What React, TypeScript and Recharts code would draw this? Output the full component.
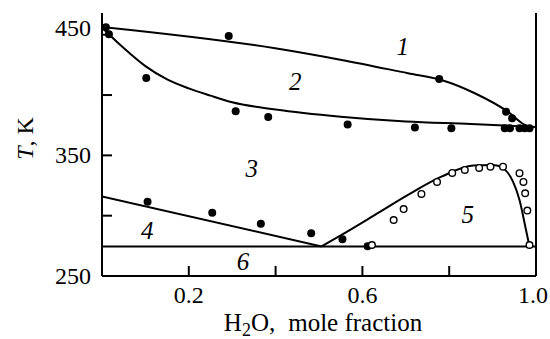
import React from 'react';
import { ComposedChart, Line, Scatter, XAxis, YAxis, ReferenceLine } from 'recharts';

const FONT = '"Liberation Serif", "Times New Roman", serif';

// Axis ticks
const xTicks = [0.2, 0.4, 0.6, 0.8, 1.0];
const xTickLabels = [0.2, 0.6, 1.0];
const yTicks = [250, 300, 350, 400, 450];
const yTickLabels = [250, 350, 450];

// Curves (mole fraction H2O, T in K)
const curve1 = [
  { x: 0.0, y: 456.5 },
  { x: 0.399, y: 438.8 },
  { x: 0.552, y: 429.1 },
  { x: 0.705, y: 418.1 },
  { x: 0.782, y: 412.5 },
  { x: 0.859, y: 401.5 },
  { x: 0.935, y: 386.2 },
  { x: 0.974, y: 375.2 },
  { x: 0.985, y: 373.5 },
];
const curve2 = [
  { x: 0.0, y: 456 },
  { x: 0.02, y: 449 },
  { x: 0.05, y: 439 },
  { x: 0.1, y: 424 },
  { x: 0.15, y: 413 },
  { x: 0.2, y: 405.5 },
  { x: 0.25, y: 399.5 },
  { x: 0.3, y: 394 },
  { x: 0.4, y: 388 },
  { x: 0.55, y: 382 },
  { x: 0.7, y: 378 },
  { x: 0.85, y: 376 },
  { x: 1.0, y: 373.5 },
];
const curve4 = [
  { x: 0.0, y: 316 },
  { x: 0.506, y: 274.5 },
];
const curve5 = [
  { x: 0.506, y: 274.5 },
  { x: 0.552, y: 284 },
  { x: 0.629, y: 300.6 },
  { x: 0.705, y: 317.2 },
  { x: 0.782, y: 332.3 },
  { x: 0.855, y: 341.5 },
  { x: 0.901, y: 342 },
  { x: 0.924, y: 339.3 },
  { x: 0.947, y: 328.2 },
  { x: 0.962, y: 313 },
  { x: 0.977, y: 288.1 },
  { x: 0.985, y: 274.5 },
];
const curve6 = [
  { x: 0.0, y: 274.5 },
  { x: 1.0, y: 274.5 },
];

// Experimental points
const filledPoints = [
  { x: 0.009, y: 456.2 },
  { x: 0.016, y: 450.4 },
  { x: 0.102, y: 414.2 },
  { x: 0.292, y: 449 },
  { x: 0.308, y: 386.6 },
  { x: 0.383, y: 381.8 },
  { x: 0.777, y: 413.3 },
  { x: 0.566, y: 375.5 },
  { x: 0.721, y: 373 },
  { x: 0.805, y: 372.5 },
  { x: 0.931, y: 386.2 },
  { x: 0.945, y: 380.8 },
  { x: 0.928, y: 372.5 },
  { x: 0.94, y: 372.5 },
  { x: 0.962, y: 372.5 },
  { x: 0.974, y: 372.5 },
  { x: 0.985, y: 372.5 },
  { x: 0.105, y: 311.6 },
  { x: 0.254, y: 302.5 },
  { x: 0.366, y: 293.4 },
  { x: 0.482, y: 285.4 },
  { x: 0.554, y: 280.4 },
  { x: 0.612, y: 274.6 },
];
const openPoints = [
  { x: 0.622, y: 275.7 },
  { x: 0.672, y: 296.4 },
  { x: 0.695, y: 305.5 },
  { x: 0.736, y: 318 },
  { x: 0.772, y: 328 },
  { x: 0.807, y: 335.4 },
  { x: 0.836, y: 337.9 },
  { x: 0.869, y: 339.6 },
  { x: 0.895, y: 340.6 },
  { x: 0.924, y: 340.6 },
  { x: 0.962, y: 335.2 },
  { x: 0.971, y: 328 },
  { x: 0.975, y: 318.6 },
  { x: 0.98, y: 304.2 },
  { x: 0.985, y: 275.7 },
];

// Region labels
const regionLabels = [
  { x: 0.693, y: 440.1, label: '1' },
  { x: 0.445, y: 411.1, label: '2' },
  { x: 0.345, y: 339.3, label: '3' },
  { x: 0.104, y: 288.1, label: '4' },
  { x: 0.843, y: 300.6, label: '5' },
  { x: 0.325, y: 261.9, label: '6' },
];

const XTick = (props: any) => {
  const { x, y, payload } = props;
  if (!xTickLabels.some((v) => Math.abs(v - payload.value) < 1e-9)) return <g />;
  const shift = payload.value === 1 ? -3 : 0;
  return (
    <text
      x={x + shift}
      y={y}
      dy="0.71em"
      textAnchor="middle"
      fontFamily={FONT}
      style={{ fontFamily: FONT }}
      fontSize={24}
      fill="#000"
    >
      {payload.value.toFixed(1)}
    </text>
  );
};

const YTick = (props: any) => {
  const { x, y, payload } = props;
  if (!yTickLabels.includes(payload.value)) return <g />;
  const shift = payload.value === 450 ? -7 : 0;
  return (
    <text
      x={x}
      y={y + shift}
      textAnchor="end"
      dominantBaseline="central"
      fontFamily={FONT}
      style={{ fontFamily: FONT }}
      fontSize={24}
      fill="#000"
    >
      {payload.value}
    </text>
  );
};

const XTitle = (props: any) => {
  const vb = props.viewBox || { x: 102, y: 276, width: 434, height: 63 };
  return (
    <text
      x={vb.x + vb.width / 2 + 4}
      y={vb.y + 55}
      textAnchor="middle"
      fontFamily={FONT}
      style={{ fontFamily: FONT }}
      fontSize={25}
      fill="#000"
    >
      <tspan>H</tspan>
      <tspan fontSize={18} dy={5}>2</tspan>
      <tspan dy={-5}>O,</tspan>
      <tspan dx={13}>mole fraction</tspan>
    </text>
  );
};

const YTitle = (props: any) => {
  const vb = props.viewBox || { x: 0, y: 13, width: 102, height: 263 };
  const cx = vb.x + 25;
  const cy = vb.y + vb.height / 2 - 6;
  return (
    <text
      x={cx}
      y={cy}
      transform={`rotate(-90 ${cx} ${cy})`}
      textAnchor="middle"
      dominantBaseline="central"
      fontFamily={FONT}
      style={{ fontFamily: FONT }}
      fontSize={24}
      fill="#000"
    >
      <tspan fontStyle="italic">T</tspan>
      <tspan>, K</tspan>
    </text>
  );
};

const FilledDot = (props: any) => <circle cx={props.cx} cy={props.cy} r={4} fill="#000" />;
const OpenDot = (props: any) => (
  <circle cx={props.cx} cy={props.cy} r={3.3} fill="#fff" stroke="#000" strokeWidth={1.4} />
);
const RegionLabel = (props: any) => (
  <text
    x={props.cx}
    y={props.cy}
    textAnchor="middle"
    dominantBaseline="central"
    fontFamily={FONT}
    style={{ fontFamily: FONT, fontStyle: 'italic' }}
    fontSize={25}
    fill="#000"
  >
    {props.payload.label}
  </text>
);

const lineProps = {
  dataKey: 'y',
  stroke: '#000',
  strokeWidth: 2,
  dot: false,
  activeDot: false,
  isAnimationActive: false,
};

export default function App() {
  return (
    <div style={{ position: 'fixed', left: 0, top: 0, width: 550, height: 339, background: '#fff' }}>
      <ComposedChart width={550} height={339} margin={{ top: 13, right: 14, bottom: 0, left: 0 }}>
        <XAxis
          type="number"
          dataKey="x"
          domain={[0, 1]}
          ticks={xTicks}
          interval={0}
          allowDataOverflow
          height={63}
          axisLine={{ stroke: '#000', strokeWidth: 2 }}
          tickLine={{ stroke: '#000', strokeWidth: 2 }}
          tickSize={-10}
          tickMargin={20}
          tick={XTick}
          label={{ content: XTitle }}
        />
        <YAxis
          type="number"
          dataKey="y"
          domain={[250, 468]}
          ticks={yTicks}
          interval={0}
          allowDataOverflow
          width={102}
          axisLine={{ stroke: '#000', strokeWidth: 2 }}
          tickLine={{ stroke: '#000', strokeWidth: 2 }}
          tickSize={-10}
          tickMargin={21}
          tick={YTick}
          label={{ content: YTitle }}
        />
        <ReferenceLine x={1} stroke="#000" strokeWidth={2} />
        <Line data={curve1} type="monotone" {...lineProps} />
        <Line data={curve2} type="monotone" {...lineProps} />
        <Line data={curve4} type="linear" {...lineProps} />
        <Line data={curve5} type="monotone" {...lineProps} />
        <Line data={curve6} type="linear" {...lineProps} />
        <Scatter data={filledPoints} shape={FilledDot} isAnimationActive={false} />
        <Scatter data={openPoints} shape={OpenDot} isAnimationActive={false} />
        <Scatter data={regionLabels} shape={RegionLabel} isAnimationActive={false} />
      </ComposedChart>
    </div>
  );
}
